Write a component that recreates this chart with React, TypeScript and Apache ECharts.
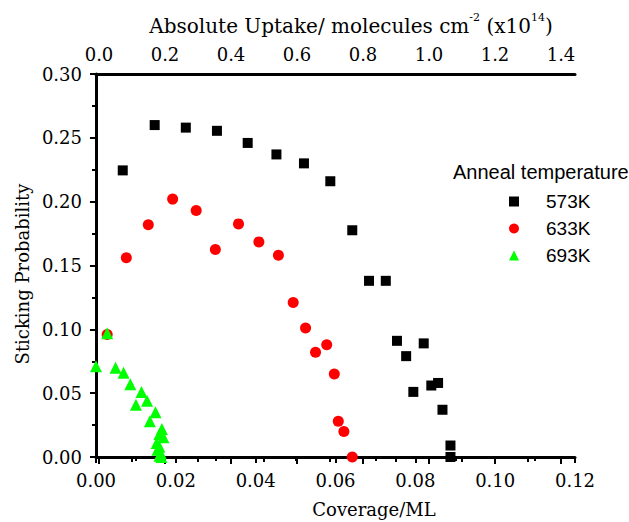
import React, { useEffect, useRef } from 'react';
import * as echarts from 'echarts';

const coverage573 = [0.0067, 0.0147, 0.0225, 0.0303, 0.038, 0.0452, 0.0521, 0.0587, 0.0642, 0.0684, 0.0726, 0.0754, 0.0777, 0.0821, 0.0795, 0.084, 0.0857, 0.0868, 0.0888, 0.0888];
const stick573 = [0.2245, 0.26, 0.258, 0.2555, 0.246, 0.237, 0.23, 0.216, 0.1776, 0.138, 0.138, 0.091, 0.079, 0.089, 0.051, 0.056, 0.058, 0.037, 0.009, 0.0];

const coverage633 = [0.0028, 0.0076, 0.0131, 0.0192, 0.0251, 0.0299, 0.0357, 0.0408, 0.0457, 0.0494, 0.0525, 0.055, 0.0578, 0.0597, 0.0607, 0.0621, 0.0642];
const stick633 = [0.096, 0.156, 0.182, 0.202, 0.193, 0.1625, 0.1826, 0.1685, 0.158, 0.121, 0.101, 0.082, 0.088, 0.065, 0.028, 0.02, 0.0];

const coverage693 = [0.0028, 0.0, 0.0049, 0.0069, 0.0086, 0.0114, 0.01, 0.0128, 0.0149, 0.0135, 0.0165, 0.0169, 0.0159, 0.0152, 0.0159, 0.0154, 0.0162, 0.0159, 0.0164];
const stick693 = [0.097, 0.071, 0.07, 0.066, 0.057, 0.051, 0.041, 0.044, 0.035, 0.028, 0.022, 0.0155, 0.018, 0.011, 0.008, 0.0056, 0.003, 0.001, 0.0];

const seriesNames = ['573K', '633K', '693K'];
const legendTitle = 'Anneal temperature';
const xTitle = 'Coverage/ML';
const yTitle = 'Sticking Probability';

const pairs = (xs: number[], ys: number[]) => xs.map((x, i) => [x, ys[i]]);

const SERIF = "'DejaVu Serif', serif";
const SANS = "'Liberation Sans', Arial, sans-serif";

export default function App() {
  const ref = useRef<HTMLDivElement>(null);
  useEffect(() => {
    if (!ref.current) return;
    const chart = echarts.init(ref.current, undefined, { renderer: 'svg' });
    const axisLine = { show: true, lineStyle: { color: '#000', width: 3 } };
    const tickLabel = (digits: number, margin: number) => ({
      margin,
      color: '#000',
      fontFamily: SERIF,
      fontSize: 18,
      formatter: (v: number) => v.toFixed(digits),
    });
    chart.setOption({
      animation: false,
      backgroundColor: '#fff',
      textStyle: { fontFamily: SERIF, color: '#000' },
      grid: [
        { left: 96, top: 74, width: 479, height: 383 },
        { left: 99, top: 74, width: 462, height: 383 },
      ],
      xAxis: [
        {
          gridIndex: 0,
          type: 'value',
          position: 'bottom',
          min: 0,
          max: 0.12,
          interval: 0.02,
          axisLine,
          axisTick: { show: true, inside: false, length: 6, lineStyle: { color: '#000', width: 2 } },
          minorTick: { show: true, splitNumber: 2, length: 4, lineStyle: { color: '#000', width: 2 } },
          splitLine: { show: false },
          axisLabel: tickLabel(2, 14),
        },
        {
          gridIndex: 0,
          type: 'value',
          position: 'top',
          min: 0,
          max: 0.12,
          axisLine,
          axisTick: { show: false },
          axisLabel: { show: false },
          splitLine: { show: false },
        },
        {
          gridIndex: 1,
          type: 'value',
          position: 'top',
          min: 0,
          max: 1.4,
          interval: 0.2,
          axisLine: { show: false },
          axisTick: { show: true, inside: true, length: 7, lineStyle: { color: '#000', width: 2 } },
          minorTick: { show: true, splitNumber: 2, length: 5, lineStyle: { color: '#000', width: 2 } },
          splitLine: { show: false },
          axisLabel: tickLabel(1, 11),
        },
      ],
      yAxis: [
        {
          gridIndex: 0,
          type: 'value',
          min: 0,
          max: 0.3,
          interval: 0.05,
          axisLine,
          axisTick: { show: true, inside: false, length: 6, lineStyle: { color: '#000', width: 2 } },
          minorTick: { show: true, splitNumber: 2, length: 4, lineStyle: { color: '#000', width: 2 } },
          splitLine: { show: false },
          axisLabel: tickLabel(2, 14),
        },
        { gridIndex: 1, type: 'value', show: false, min: 0, max: 1 },
      ],
      legend: {
        orient: 'vertical',
        left: 504,
        top: 187,
        itemWidth: 10,
        itemHeight: 10,
        itemGap: 8,
        data: seriesNames,
        textStyle: { fontFamily: SANS, fontSize: 19, color: '#000', padding: [0, 0, 0, 22] },
      },
      graphic: [
        {
          type: 'text',
          x: 453,
          y: 172,
          style: { text: legendTitle, fontFamily: SANS, fontSize: 20, fill: '#000', align: 'left', verticalAlign: 'middle' },
        },
        {
          type: 'text',
          x: 374,
          y: 509,
          style: { text: xTitle, fontFamily: SERIF, fontSize: 18, fill: '#000', align: 'center', verticalAlign: 'middle' },
        },
        {
          type: 'text',
          x: 22,
          y: 274,
          rotation: Math.PI / 2,
          style: { text: yTitle, fontFamily: SERIF, fontSize: 18, fill: '#000', align: 'center', verticalAlign: 'middle' },
        },
        {
          type: 'text',
          x: 351,
          y: 24,
          style: {
            text: '{n|Absolute Uptake/ molecules cm}{s|-2}{n| (x10}{s|14}{n|)}',
            align: 'center',
            verticalAlign: 'middle',
            fill: '#000',
            rich: {
              n: { fontFamily: SERIF, fontSize: 20, fill: '#000', lineHeight: 24, verticalAlign: 'bottom' },
              s: { fontFamily: SERIF, fontSize: 11, fill: '#000', lineHeight: 24, verticalAlign: 'top' },
            },
          },
        },
      ],
      series: [
        {
          name: seriesNames[0],
          type: 'scatter',
          xAxisIndex: 0,
          yAxisIndex: 0,
          symbol: 'rect',
          symbolSize: 10,
          clip: false,
          itemStyle: { color: '#000000', opacity: 1 },
          data: pairs(coverage573, stick573),
        },
        {
          name: seriesNames[1],
          type: 'scatter',
          xAxisIndex: 0,
          yAxisIndex: 0,
          symbol: 'circle',
          symbolSize: 11,
          clip: false,
          itemStyle: { color: '#ff0000', opacity: 1 },
          data: pairs(coverage633, stick633),
        },
        {
          name: seriesNames[2],
          type: 'scatter',
          xAxisIndex: 0,
          yAxisIndex: 0,
          symbol: 'triangle',
          symbolSize: 12,
          clip: false,
          itemStyle: { color: '#00ff00', opacity: 1 },
          data: pairs(coverage693, stick693),
        },
      ],
    });
    return () => chart.dispose();
  }, []);
  return <div ref={ref} style={{ position: 'fixed', left: 0, top: 0, width: 629, height: 522 }} />;
}
